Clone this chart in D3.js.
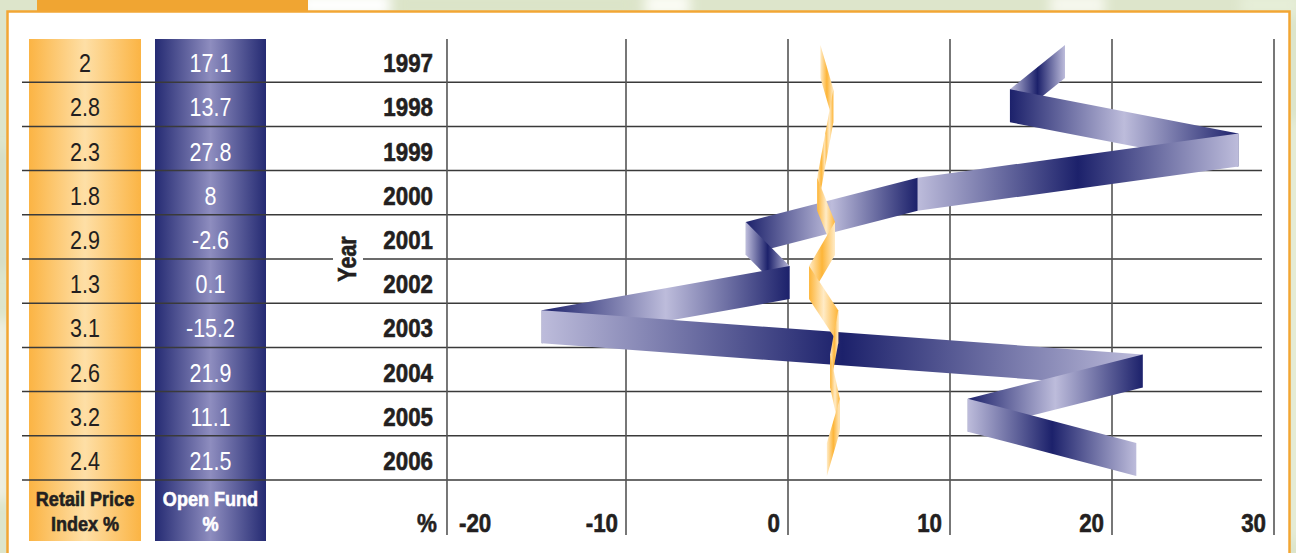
<!DOCTYPE html>
<html>
<head>
<meta charset="utf-8">
<script src="https://cdn.jsdelivr.net/npm/d3@7/dist/d3.min.js"></script>
<style>
  html, body { margin: 0; padding: 0; background: #dfe6cf; }
  svg { display: block; }
  text { font-family: "Liberation Sans", Arial, Helvetica, sans-serif; }
</style>
</head>
<body>
<svg id="chart" width="1296" height="553"></svg>
<script>
// Annual returns: UK open-ended funds vs. retail price inflation
const years = ["1997", "1998", "1999", "2000", "2001", "2002", "2003", "2004", "2005", "2006"];
const retailPrice = [2, 2.8, 2.3, 1.8, 2.9, 1.3, 3.1, 2.6, 3.2, 2.4];
const openFund = [17.1, 13.7, 27.8, 8, -2.6, 0.1, -15.2, 21.9, 11.1, 21.5];
const xTicks = [-20, -10, 0, 10, 20, 30];

const W = 1296, H = 553;
const NARROW = 0.86; // horizontal squeeze for a condensed look
const svg = d3.select("#chart");
const defs = svg.append("defs");

// condensed text helper; bold text gets a hairline stroke for a heavier face
function label(parent, tx, ty, str, opts = {}) {
  const rot = opts.rotate ? ` rotate(${opts.rotate})` : "";
  const fill = opts.fill || "#231f20";
  const t = parent.append("text")
    .attr("transform", `translate(${tx},${ty})${rot} scale(${NARROW},1)`)
    .attr("text-anchor", opts.anchor || "middle")
    .attr("font-size", opts.size || 25)
    .attr("font-weight", opts.bold ? "bold" : "normal")
    .attr("fill", fill)
    .text(str);
  if (opts.bold) t.attr("stroke", fill).attr("stroke-width", 0.6);
  return t;
}

// ---- page backdrop: soft green photo-like wash
defs.append("filter").attr("id", "soft").attr("x", "-50%").attr("y", "-50%").attr("width", "200%").attr("height", "200%")
  .append("feGaussianBlur").attr("stdDeviation", 6);
svg.append("rect").attr("width", W).attr("height", H).attr("fill", "#dde5cb");
const wash = svg.append("g").attr("filter", "url(#soft)");
[[300, -6, 90, 22, "#ffffff"], [645, -6, 45, 22, "#fbfcf5"], [1050, -6, 55, 22, "#f6f8ee"],
 [395, -4, 240, 18, "#dbe4c8"], [1240, -6, 60, 22, "#e6eed8"],
 [-6, 320, 14, 180, "#f2f1e6"], [-6, 150, 14, 120, "#d4dcc4"], [1290, 120, 10, 420, "#eaf0dc"]]
  .forEach(([x, y, w, h, c]) => wash.append("rect").attr("x", x).attr("y", y).attr("width", w).attr("height", h).attr("fill", c));

// ---- panel
svg.append("rect").attr("x", 37).attr("y", 0).attr("width", 271).attr("height", 12).attr("fill", "#f0a532");
svg.append("rect").attr("x", 7.5).attr("y", 11.5).attr("width", 1282).attr("height", 560)
  .attr("fill", "#ffffff").attr("stroke", "#f2a634").attr("stroke-width", 2.5);

// ---- scales
const x = d3.scaleLinear().domain([-20, 30]).range([464, 1274]);
const y = d3.scaleBand().domain(years).range([38, 480]);
const cy = yr => y(yr) + y.bandwidth() / 2 + 1.5;
const plotLeft = x(-21.05);
const gridTop = 39, gridBottom = 535;
const half = 16.5;

// ---- table columns (vertical sheen)
function sheen(id, edge, mid) {
  const g = defs.append("linearGradient").attr("id", id).attr("x1", 0).attr("x2", 1).attr("y1", 0).attr("y2", 0);
  g.append("stop").attr("offset", 0).attr("stop-color", edge);
  g.append("stop").attr("offset", 0.5).attr("stop-color", mid);
  g.append("stop").attr("offset", 1).attr("stop-color", edge);
}
sheen("colRetail", "#fbb444", "#fedfa6");
sheen("colFund", "#252b73", "#8e8dbf");

const colRetail = { x0: 29, x1: 141 };
const colFund = { x0: 155, x1: 266 };
svg.append("rect").attr("x", colRetail.x0).attr("y", gridTop).attr("width", colRetail.x1 - colRetail.x0)
  .attr("height", 541 - gridTop).attr("fill", "url(#colRetail)");
svg.append("rect").attr("x", colFund.x0).attr("y", gridTop).attr("width", colFund.x1 - colFund.x0)
  .attr("height", 541 - gridTop).attr("fill", "url(#colFund)");

// ---- row separators
const rowLines = svg.append("g").attr("stroke", "#3a3a3a").attr("stroke-width", 1.5);
years.forEach(yr => {
  const yy = y(yr) + y.bandwidth();
  rowLines.append("line").attr("x1", 22).attr("x2", 1262).attr("y1", yy).attr("y2", yy);
});

// ---- vertical grid
const vGrid = svg.append("g").attr("stroke", "#555").attr("stroke-width", 1.6);
vGrid.append("line").attr("x1", plotLeft).attr("x2", plotLeft).attr("y1", gridTop).attr("y2", gridBottom);
xTicks.filter(v => v > -20).forEach(v => {
  vGrid.append("line").attr("x1", x(v)).attr("x2", x(v)).attr("y1", gridTop).attr("y2", gridBottom);
});

// ---- table values and year labels
const midRetail = (colRetail.x0 + colRetail.x1) / 2;
const midFund = (colFund.x0 + colFund.x1) / 2;
const txt = svg.append("g");
years.forEach((yr, i) => {
  const base = y(yr) + y.bandwidth() / 2 + 12;
  label(txt, midRetail, base, retailPrice[i], { size: 25 });
  label(txt, midFund, base, openFund[i], { size: 25, fill: "#ffffff" });
  label(txt, 433, base, yr, { size: 26, bold: true, anchor: "end" });
});

// column headers
label(txt, midRetail, 506, "Retail Price", { size: 21, bold: true });
label(txt, midRetail, 531, "Index %", { size: 21, bold: true });
label(txt, midFund, 506, "Open Fund", { size: 21, bold: true, fill: "#ffffff" });
label(txt, midFund, 531, "%", { size: 21, bold: true, fill: "#ffffff" });

// axis unit and tick labels
label(txt, 437, 532, "%", { size: 26, bold: true, anchor: "end" });
xTicks.forEach((v, i) => {
  label(txt, i === 0 ? x(v) - 5 : x(v) - 8, 532, v,
    { size: 26, bold: true, anchor: i === 0 ? "start" : "end" });
});

// "Year" axis title, with a knock-out behind it
const yearTitleY = y("2002");
svg.append("rect").attr("x", 333).attr("y", yearTitleY - 28).attr("width", 30).attr("height", 56).attr("fill", "#fff");
label(svg, 356, yearTitleY, "Year", { size: 25, bold: true, rotate: -90 });

// ---- ribbons: one parallelogram per year-to-year segment, alternating sheen
function ribbon(values, dark, light, key) {
  const g = svg.append("g");
  const pts = values.map((v, i) => [x(v), cy(years[i])]);
  for (let i = 0; i < pts.length - 1; i++) {
    const [xa, ya] = pts[i], [xb, yb] = pts[i + 1];
    const id = `${key}${i}`;
    const edge = i % 2 === 0 ? light : dark;
    const mid = i % 2 === 0 ? dark : light;
    const grad = defs.append("linearGradient").attr("id", id).attr("gradientUnits", "userSpaceOnUse")
      .attr("x1", xa).attr("x2", xb === xa ? xa + 1 : xb).attr("y1", 0).attr("y2", 0);
    grad.append("stop").attr("offset", 0).attr("stop-color", edge);
    grad.append("stop").attr("offset", 0.5).attr("stop-color", mid);
    grad.append("stop").attr("offset", 1).attr("stop-color", edge);
    const poly = [[xa, ya - half], [xb, yb - half], [xb, yb + half], [xa, ya + half]];
    g.append("path").attr("d", d3.line()(poly) + "Z").attr("fill", `url(#${id})`);
  }
}
ribbon(openFund, "#1c216b", "#bdbcdb", "fund");
ribbon(retailPrice, "#fdb538", "#ffebc6", "rpi");
</script>
</body>
</html>
